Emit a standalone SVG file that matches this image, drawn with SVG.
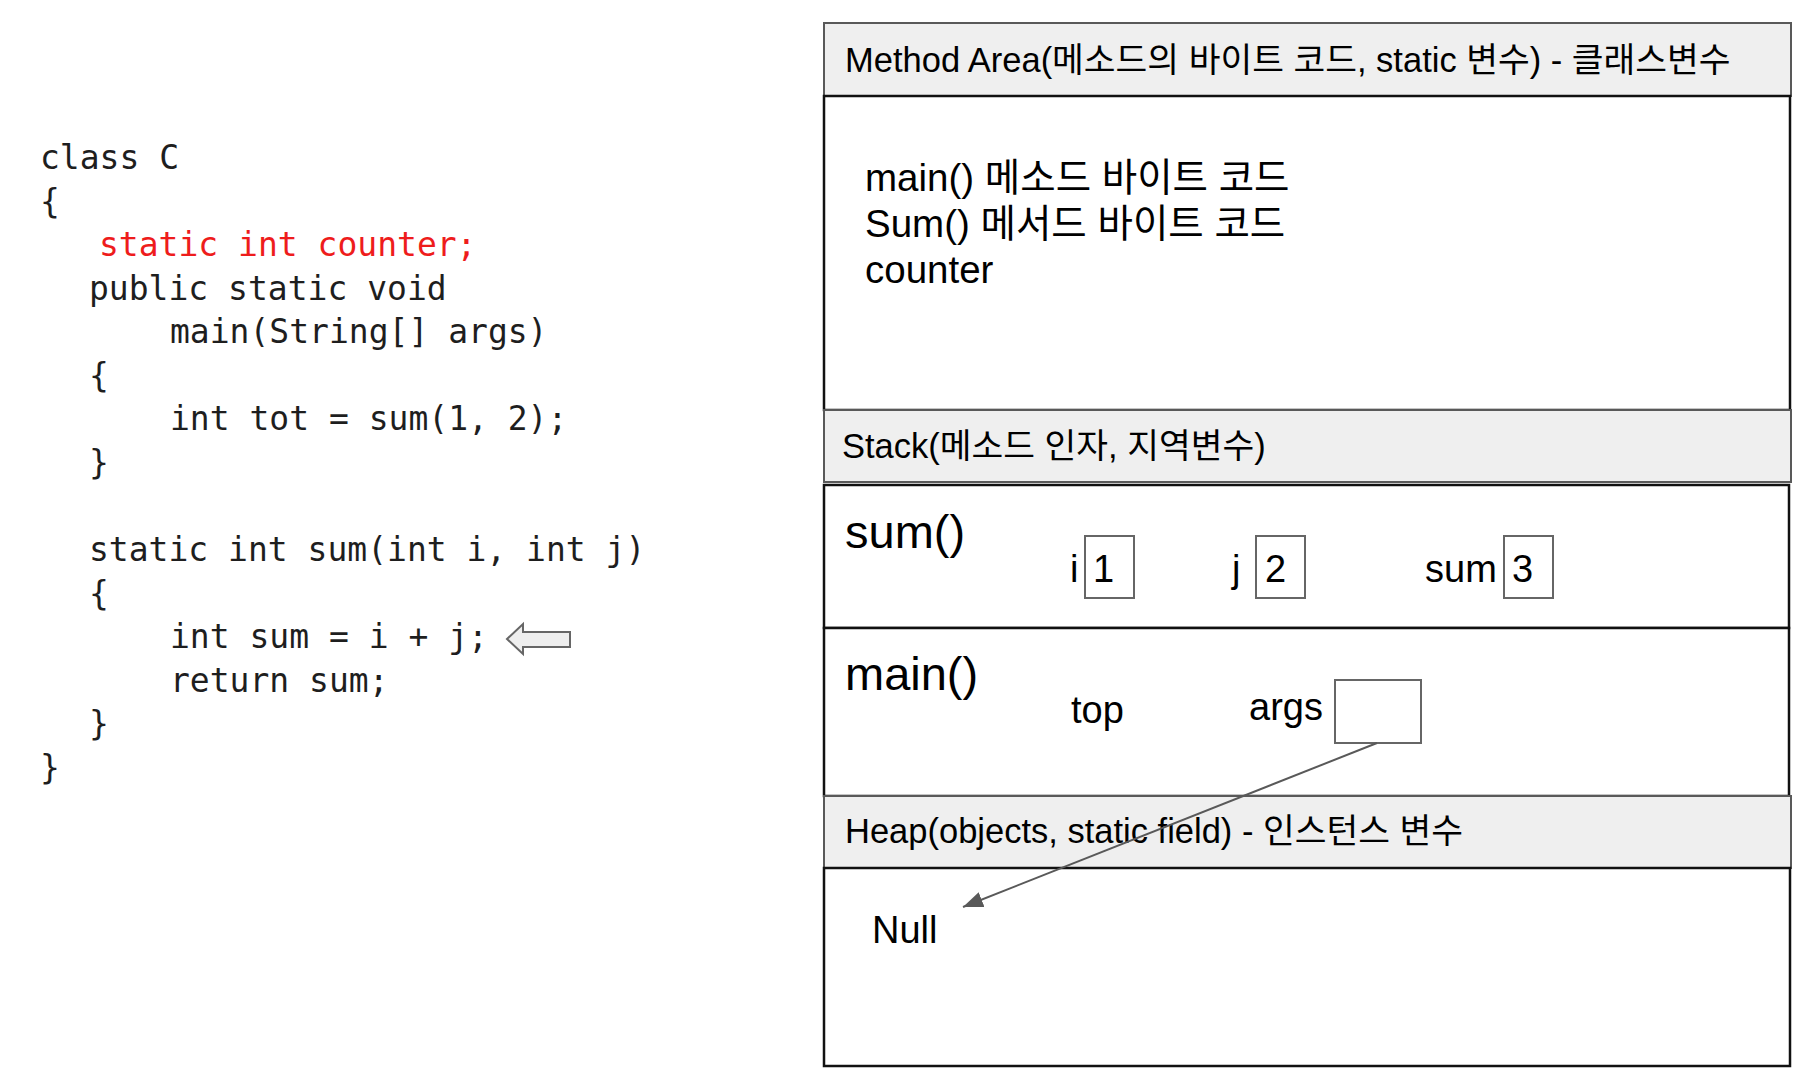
<svg xmlns="http://www.w3.org/2000/svg" width="1814" height="1090" viewBox="0 0 1814 1090">
<style>
.code{font-family:"DejaVu Sans Mono","Liberation Mono",monospace;font-size:33px;fill:#1e1e1e}
.red{fill:#ee1c1c}
.hdr{fill:#efefef;stroke:#595959;stroke-width:2}
.body{fill:#ffffff;stroke:#111111;stroke-width:2.5}
.t{font-family:"Liberation Sans","Noto Sans CJK KR",sans-serif;fill:#000000}
.h{font-size:34.5px}
.m{font-size:38.5px}
.big{font-size:47px}
.v{font-size:38px}
.cell{fill:#ffffff;stroke:#666666;stroke-width:2}
.conn{stroke:#595959;stroke-width:2;fill:none}
</style>
<defs>
<marker id="ah" markerUnits="userSpaceOnUse" markerWidth="22" markerHeight="16" refX="20" refY="8" orient="auto">
<path d="M0,0 L20,8 L0,16 Z" fill="#595959"/>
</marker>
</defs>
<rect width="1814" height="1090" fill="#ffffff"/>
<g id="code">
<text class="code" x="40" y="169">class C</text>
<text class="code" x="40" y="212.5">{</text>
<text class="code red" x="99" y="256">static int counter;</text>
<text class="code" x="89" y="299.5">public static void</text>
<text class="code" x="170" y="343">main(String[] args)</text>
<text class="code" x="89" y="386.5">{</text>
<text class="code" x="170" y="430">int tot = sum(1, 2);</text>
<text class="code" x="89" y="473.5">}</text>
<text class="code" x="89" y="561">static int sum(int i, int j)</text>
<text class="code" x="89" y="604.5">{</text>
<text class="code" x="170" y="648">int sum = i + j;</text>
<text class="code" x="170" y="691.5">return sum;</text>
<text class="code" x="89" y="735">}</text>
<text class="code" x="40" y="778.5">}</text>
</g>
<g id="pointer-arrow">
<path d="M507,639 L523,624 L523,632 L570,632 L570,647 L523,647 L523,654 Z" fill="#eeeeee" stroke="#666666" stroke-width="2" stroke-linejoin="miter"/>
</g>
<g id="method-area">
<rect class="hdr" x="824" y="23" width="967" height="73"/>
<rect class="body" x="824" y="96" width="966" height="314"/>
<text class="t h" x="845" y="72">Method Area(메소드의 바이트 코드, static 변수) - 클래스변수</text>
<text class="t m" x="865" y="191">main() 메소드 바이트 코드</text>
<text class="t m" x="865" y="237">Sum() 메서드 바이트 코드</text>
<text class="t m" x="865" y="283">counter</text>
</g>
<g id="stack">
<rect class="hdr" x="824" y="410" width="967" height="72"/>
<text class="t h" x="842" y="458">Stack(메소드 인자, 지역변수)</text>
</g>
<g id="sum-frame">
<rect class="body" x="824" y="485" width="965" height="143"/>
<text class="t big" x="845" y="548">sum()</text>
<text class="t v" x="1070" y="582">i</text>
<rect class="cell" x="1085" y="536" width="49" height="62"/>
<text class="t v" x="1093" y="582">1</text>
<text class="t v" x="1232" y="582">j</text>
<rect class="cell" x="1256" y="536" width="49" height="62"/>
<text class="t v" x="1265" y="582">2</text>
<text class="t v" x="1425" y="582">sum</text>
<rect class="cell" x="1504" y="536" width="49" height="62"/>
<text class="t v" x="1512" y="582">3</text>
</g>
<g id="main-frame">
<rect class="body" x="824" y="628" width="965" height="168"/>
<text class="t big" x="845" y="690">main()</text>
<text class="t v" x="1071" y="723">top</text>
<text class="t v" x="1249" y="720">args</text>
<rect class="cell" x="1335" y="680" width="86" height="63"/>
</g>
<g id="heap">
<rect class="hdr" x="824" y="796" width="967" height="72"/>
<rect class="body" x="824" y="868" width="966" height="198"/>
<text class="t h" x="845" y="843">Heap(objects, static field) - 인스턴스 변수</text>
<text class="t v" x="872" y="943">Null</text>
</g>
<g id="connectors">
<line class="conn" x1="1377" y1="743" x2="963" y2="907" marker-end="url(#ah)"/>
</g>
</svg>
